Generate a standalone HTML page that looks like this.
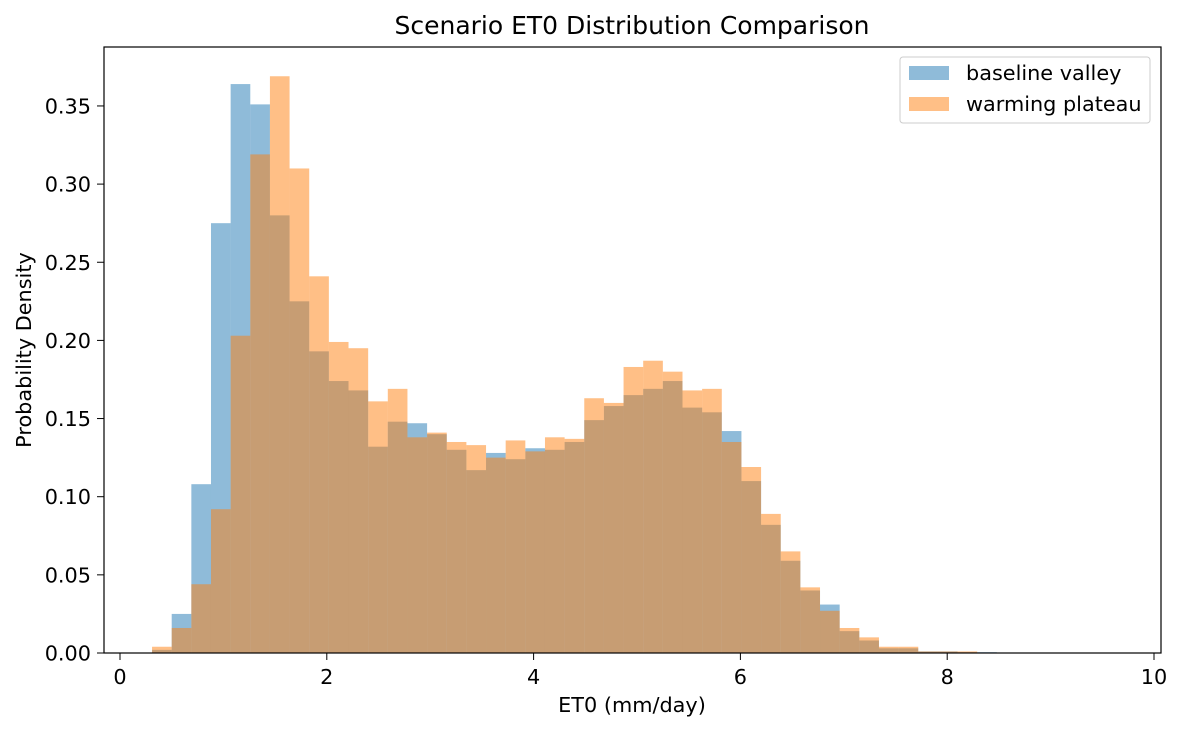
<!DOCTYPE html>
<html><head><meta charset="utf-8"><style>
body{margin:0;background:#fff;font-family:"Liberation Sans","DejaVu Sans",sans-serif}
svg text{font-family:"DejaVu Sans","Liberation Sans",sans-serif;fill:#000}
</style></head><body>
<svg id="chart" width="1183" height="731" xmlns="http://www.w3.org/2000/svg">
<rect width="1183" height="731" fill="#fff"/>
<g id="bars"></g>
<rect x="104" y="47" width="1057" height="606" fill="none" stroke="#000" stroke-width="1.2"/>
<g id="axes"></g>
<text x="632" y="34" font-size="25" text-anchor="middle">Scenario ET0 Distribution Comparison</text>
<text x="632" y="712" font-size="20.8" text-anchor="middle">ET0 (mm/day)</text>
<text transform="translate(31,350) rotate(-90)" font-size="20.8" text-anchor="middle">Probability Density</text>
<g>
<rect x="900" y="57" width="250" height="66" rx="3" fill="#fff" fill-opacity="0.8" stroke="#ccc"/>
<g>
<rect x="909" y="66" width="40" height="14" fill="#1f77b4" fill-opacity="0.5"/>
<text x="966" y="80" font-size="20.8">baseline valley</text></g>
<g>
<rect x="909" y="97" width="40" height="14" fill="#ff7f0e" fill-opacity="0.5"/>
<text x="966" y="111" font-size="20.8">warming plateau</text></g>
</g>
</svg>
<script>
const binStart = 0.31;
const binWidth = 0.19;
const baseline = [0.002,0.025,0.108,0.275,0.364,0.351,0.280,0.225,0.193,0.174,0.168,0.132,0.148,0.147,0.140,0.130,0.117,0.128,0.124,0.131,0.130,0.135,0.149,0.158,0.165,0.169,0.174,0.157,0.154,0.142,0.110,0.082,0.059,0.040,0.031,0.014,0.008,0.003,0.003,0.001,0.001,0.0005,0.0005];
const warming = [0.004,0.016,0.044,0.092,0.203,0.319,0.369,0.310,0.241,0.199,0.195,0.161,0.169,0.138,0.141,0.135,0.133,0.125,0.136,0.129,0.138,0.137,0.163,0.160,0.183,0.187,0.180,0.168,0.169,0.135,0.119,0.089,0.065,0.042,0.027,0.016,0.010,0.004,0.004,0.001,0.001,0.001];
const xTicks = [0,2,4,6,8,10];
const yTicks = [0,0.05,0.10,0.15,0.20,0.25,0.30,0.35];
const xs = v => 120 + v*103.4;
const ys = v => 653 - v*1563;
const NS = "http://www.w3.org/2000/svg";
const bars = document.getElementById('bars');
function drawSeries(vals, color, name){
  vals.forEach((v,i)=>{
    const r = document.createElementNS(NS,'rect');
    const x0 = xs(binStart+i*binWidth), x1 = xs(binStart+(i+1)*binWidth);
    r.setAttribute('x', x0); r.setAttribute('width', x1-x0);
    r.setAttribute('y', ys(v)); r.setAttribute('height', 653-ys(v));
    r.setAttribute('fill', color); r.setAttribute('fill-opacity','0.5');
    
    
    bars.appendChild(r);
  });
}
drawSeries(baseline,'#1f77b4','baseline');
drawSeries(warming,'#ff7f0e','warming');
const axes = document.getElementById('axes');
xTicks.forEach(t=>{
  const l = document.createElementNS(NS,'line');
  l.setAttribute('x1',xs(t));l.setAttribute('x2',xs(t));l.setAttribute('y1',653);l.setAttribute('y2',660);
  l.setAttribute('stroke','#000');
  
  
  axes.appendChild(l);
  const tx = document.createElementNS(NS,'text');
  tx.setAttribute('x',xs(t));tx.setAttribute('y',684);tx.setAttribute('font-size','20.8');tx.setAttribute('text-anchor','middle');
  tx.textContent = t;
  
  
  axes.appendChild(tx);
});
yTicks.forEach(t=>{
  const l = document.createElementNS(NS,'line');
  l.setAttribute('x1',97);l.setAttribute('x2',104);l.setAttribute('y1',ys(t));l.setAttribute('y2',ys(t));
  l.setAttribute('stroke','#000');
  
  
  axes.appendChild(l);
  const tx = document.createElementNS(NS,'text');
  tx.setAttribute('x',91);tx.setAttribute('y',ys(t)+7.5);tx.setAttribute('font-size','20.8');tx.setAttribute('text-anchor','end');
  tx.textContent = t.toFixed(2);
  
  
  axes.appendChild(tx);
});
</script>
</body></html>
